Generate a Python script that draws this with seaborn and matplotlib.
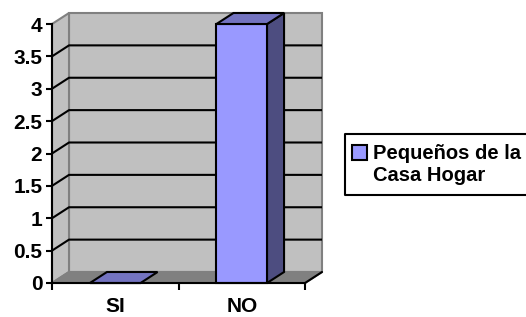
import matplotlib
matplotlib.use('Agg')
import matplotlib.pyplot as plt
import seaborn as sns
import pandas as pd
from matplotlib.patches import Polygon, Rectangle
from matplotlib.lines import Line2D

categories = ['SI', 'NO']
values = [0, 4]
series_name = 'Pequeños de la\nCasa Hogar'
y_ticks = [0, 0.5, 1, 1.5, 2, 2.5, 3, 3.5, 4]
y_tick_labels = ['0', '0.5', '1', '1.5', '2', '2.5', '3', '3.5', '4']

sns.set_theme(style='white')
plt.rcParams['font.family'] = ['Liberation Sans', 'DejaVu Sans']
plt.rcParams['font.weight'] = 'bold'

W, H = 526, 317
FS = 14.5
TICK_FS = 15
BAR_C, TOP_C, SIDE_C = '#9999FF', '#7373C0', '#4D4D80'
fig = plt.figure(figsize=(W / 100, H / 100), dpi=100)
fig.patch.set_facecolor('white')
ax = fig.add_axes([52 / W, (H - 283) / H, 253 / W, (283 - 24) / H])
ax.set_facecolor('none')

df = pd.DataFrame({'cat': categories, 'val': values})
sns.barplot(data=df, x='cat', y='val', color=BAR_C, saturation=1,
            width=0.4, edgecolor='black', linewidth=1.5, ax=ax, zorder=4)
bars = list(ax.containers[0])

x0, x1 = -0.5, len(categories) - 0.5
top = y_ticks[-1]
ax.set_xlim(x0, x1)
ax.set_ylim(0, top)

# depth offset of the pseudo-3D box, in data units
DX_PX, DY_PX = 17, 11
dxd = DX_PX * (x1 - x0) / 253
dyd = DY_PX * top / 259

wall_c, floor_c, edge_c = '#C0C0C0', '#808080', '#808080'
ax.add_patch(Polygon([(x0 + dxd, dyd), (x1 + dxd, dyd), (x1 + dxd, top + dyd), (x0 + dxd, top + dyd)],
                     closed=True, fc=wall_c, ec=edge_c, lw=1.5, zorder=0.5, clip_on=False))
ax.add_patch(Polygon([(x0, 0), (x0 + dxd, dyd), (x0 + dxd, top + dyd), (x0, top)],
                     closed=True, fc=wall_c, ec=edge_c, lw=1.5, zorder=0.6, clip_on=False))
ax.add_patch(Polygon([(x0, 0), (x1, 0), (x1 + dxd, dyd), (x0 + dxd, dyd)],
                     closed=True, fc=floor_c, ec=edge_c, lw=1.5, zorder=0.7, clip_on=False))

for y in y_ticks[1:-1]:
    ax.plot([x0, x0 + dxd, x1 + dxd], [y, y + dyd, y + dyd], color='black', lw=1.5,
            zorder=1, clip_on=False, solid_capstyle='butt')

ax.plot([x1, x1 + dxd], [0, dyd], color='black', lw=1.5, zorder=5, clip_on=False)

for p in bars:
    x, w, h = p.get_x(), p.get_width(), p.get_height()
    p.set_clip_on(False)
    if h > 0:
        ax.add_patch(Polygon([(x + w, 0), (x + w + dxd, dyd), (x + w + dxd, h + dyd), (x + w, h)],
                             closed=True, fc=SIDE_C, ec='black', lw=1.5, zorder=4, clip_on=False))
    ax.add_patch(Polygon([(x, h), (x + w, h), (x + w + dxd, h + dyd), (x + dxd, h + dyd)],
                         closed=True, fc=TOP_C, ec='black', lw=1.5, zorder=4.1, clip_on=False))

for s in ['top', 'right']:
    ax.spines[s].set_visible(False)
for s in ['left', 'bottom']:
    ax.spines[s].set_color('black')
    ax.spines[s].set_linewidth(1.5)
    ax.spines[s].set_zorder(4.5)

ax.set_yticks(y_ticks, y_tick_labels)
ax.tick_params(axis='y', left=True, direction='out', length=4, width=1.5, color='black',
               labelsize=TICK_FS, pad=3)
ax.set_xticks(range(len(categories)), categories)
ax.set_xticks([x0 + i for i in range(len(categories) + 1)], minor=True)
ax.tick_params(axis='x', which='major', length=0, labelsize=TICK_FS, pad=10)
ax.tick_params(axis='x', which='minor', bottom=True, direction='out', length=5, width=1.5, color='black')
for lab in ax.get_xticklabels() + ax.get_yticklabels():
    lab.set_fontweight('bold')
    lab.set_color('black')
ax.set_xlabel('')
ax.set_ylabel('')

# legend box (Excel style: marker aligned with first line, box runs off the right edge)
def fx(px):
    return px / W


def fy(py):
    return 1 - py / H


fig.add_artist(Line2D([fx(560), fx(345), fx(345), fx(560)], [fy(134), fy(134), fy(195), fy(195)],
                      transform=fig.transFigure, color='black', lw=1.5, zorder=10))
fig.add_artist(Rectangle((fx(352), fy(160)), fx(15), 15 / H, transform=fig.transFigure,
                         fc=BAR_C, ec='black', lw=1.5, zorder=11))
for i, line in enumerate(series_name.split('\n')):
    fig.text(fx(373), fy(159 + 22 * i), line, ha='left', va='baseline', fontsize=FS,
             fontweight='bold', color='black', zorder=11)

fig.savefig('out.png', dpi=100)
